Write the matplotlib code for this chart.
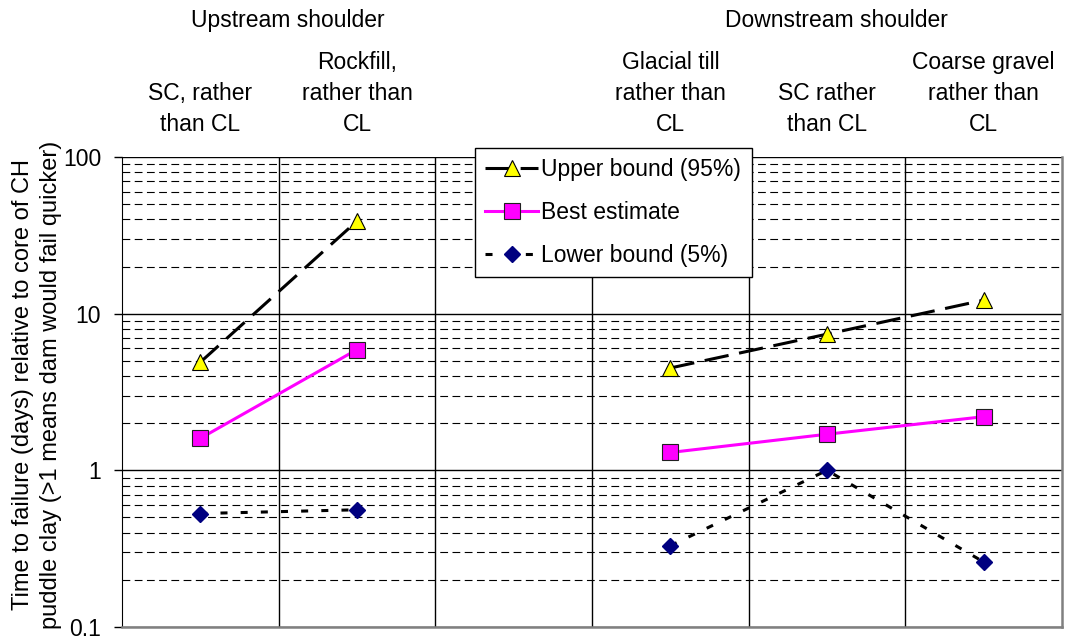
import numpy as np
import matplotlib
matplotlib.use("Agg")
import matplotlib.pyplot as plt
from matplotlib.transforms import blended_transform_factory

plt.rcParams["font.family"] = ["Liberation Sans", "DejaVu Sans"]

# Comparison categories (index 2 is an empty spacer between the two shoulder groups)
categories = [
    "SC, rather\nthan CL",
    "Rockfill,\nrather than\nCL",
    "",
    "Glacial till\nrather than\nCL",
    "SC rather\nthan CL",
    "Coarse gravel\nrather than\nCL",
]
groups = ["Upstream shoulder", "Downstream shoulder"]
group_members = [[0, 1], [3, 4, 5]]

upper_bound = [4.9, 39.0, np.nan, 4.5, 7.4, 12.2]
best_estimate = [1.6, 5.9, np.nan, 1.3, 1.7, 2.2]
lower_bound = [0.53, 0.56, np.nan, 0.33, 1.0, 0.26]

ytick_values = [0.1, 1, 10, 100]
ytick_labels = ["0.1", "1", "10", "100"]

FS = 16.5

fig = plt.figure(figsize=(10.66, 6.37), dpi=100)
ax = fig.add_axes([122 / 1066, 10 / 637, 940 / 1066, 470 / 637])

x = np.arange(len(categories))

ax.plot(x, upper_bound, color="black", lw=2.2, linestyle=(0, (8, 3.5)),
        marker="^", markersize=12, markerfacecolor="#ffff00",
        markeredgecolor="black", markeredgewidth=0.8,
        label="Upper bound (95%)", zorder=5)
ax.plot(x, best_estimate, color="#ff00ff", lw=2.2, linestyle="-",
        marker="s", markersize=11, markerfacecolor="#ff00ff",
        markeredgecolor="#202020", markeredgewidth=0.8,
        label="Best estimate", zorder=5)
ax.plot(x, lower_bound, color="black", lw=2.2, linestyle=(0, (2.3, 4.3)),
        marker="D", markersize=8.5, markerfacecolor="#000080",
        markeredgecolor="#000080",
        label="Lower bound (5%)", zorder=5)

ax.set_yscale("log")
ax.set_ylim(0.1, 100)
ax.set_xlim(-0.5, len(categories) - 0.5)

# horizontal gridlines: solid at decades, dashed in between
ax.yaxis.grid(True, which="major", color="black", lw=1.0, linestyle="-")
ax.yaxis.grid(True, which="minor", color="black", lw=0.8, linestyle=(0, (7, 4)))
ax.set_axisbelow(True)

# vertical separators between categories
for b in np.arange(0.5, len(categories) - 0.5, 1.0):
    ax.axvline(b, color="black", lw=1.0, zorder=1)

ax.set_yticks(ytick_values)
ax.set_yticklabels(ytick_labels, fontsize=FS)
ax.yaxis.set_minor_formatter(plt.NullFormatter())
ax.tick_params(axis="y", which="major", length=6, width=1, direction="out", pad=9)
ax.tick_params(axis="y", which="minor", length=0)
ax.set_xticks([])

ax.spines["left"].set_color("black")
ax.spines["top"].set_visible(False)
for side in ("right", "bottom"):
    ax.spines[side].set_color("#808080")
    ax.spines[side].set_linewidth(1.8)

# category and group labels above the plot
trans = blended_transform_factory(ax.transData, ax.transAxes)
for i, name in enumerate(categories):
    if name:
        ax.text(i, 1.045, name, transform=trans, ha="center", va="bottom",
                fontsize=FS, linespacing=1.45)
for name, members in zip(groups, group_members):
    xc = (members[0] + members[-1]) / 2 + 0.06
    ax.text(xc, 1.291, name, transform=trans, ha="center", va="center",
            fontsize=FS)

fig.text(37 / 1066, (637 - 385) / 637,
         "Time to failure (days) relative to core of CH\n"
         "puddle clay (>1 means dam would fail quicker)",
         rotation=90, ha="center", va="center", multialignment="center",
         fontsize=17, linespacing=1.35)

leg = ax.legend(loc="upper left", bbox_to_anchor=(353 / 940, 479 / 470),
                fontsize=FS, frameon=True, fancybox=False, framealpha=1,
                edgecolor="black", handlelength=2.3, handletextpad=0.15,
                labelspacing=0.86, borderpad=0.45, borderaxespad=0)
leg.get_frame().set_linewidth(1.0)
leg.set_zorder(10)

fig.savefig("out.png", dpi=100)
